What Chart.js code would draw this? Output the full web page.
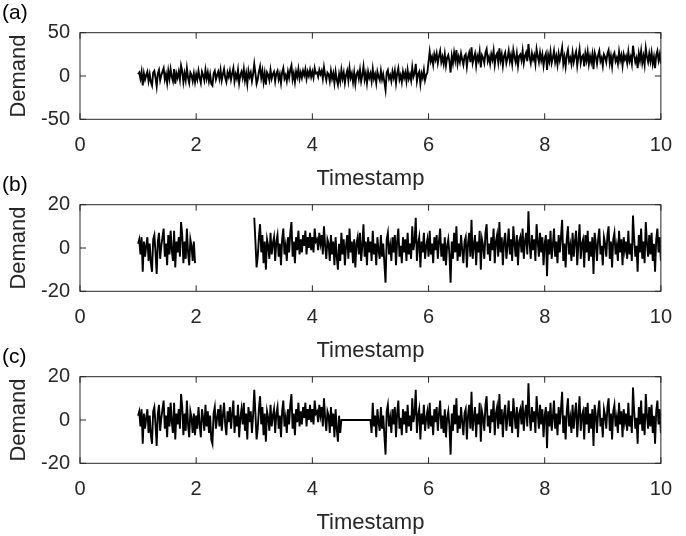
<!DOCTYPE html>
<html>
<head>
<meta charset="utf-8">
<script src="https://cdn.jsdelivr.net/npm/chart.js@4"></script>
<style>
  body { margin: 0; background: #fff; overflow: hidden; width: 686px; height: 536px; position: relative; }
  canvas { position: absolute; left: 0; }
</style>
</head>
<body>
<canvas id="panelA" width="686" height="200" style="top:0px"></canvas>
<canvas id="panelB" width="686" height="200" style="top:172px"></canvas>
<canvas id="panelC" width="686" height="200" style="top:344px"></canvas>
<script>
// timestamps run from 1 to 10 in steps of 0.02
const startTime = 1;
const timeStep = 0.02;

// (a) demand with a level shift at t = 6
const demandA = [
  2, 4, -3, 5, -11, 3, -4, 1, 5, -6,
  2, -7, -11, 4, 6, -2, -12, 3, 7, -5,
  1, 5, 9, -4, 2, -8, 6, -3, 8, -1,
  -6, 8, -9, 3, -2, 5, -4, 12, 6, -7,
  3, -5, 9, -2, -8, 4, 1, -6, 3, -7,
  2, -4, 6, -2, -8, 5, 1, -5, 7, -3,
  4, -6, 2, -9, -11, 3, 6, -4, 1, 5,
  -3, 7, -5, 2, 8, -2, -7, 4, -1, 6,
  -4, 3, 9, -6, 2, -3, 7, -8, 1, 5,
  -2, 8, -5, 3, -9, 6, -1, 4, -6, 2,
  14, 3, -9, -4, 5, 11, -2, 6, -7, 3,
  -10, 4, 1, -5, 7, -3, 2, 5, -6, 3,
  6, -4, 2, -8, 4, 9, -3, 1, -6, 5,
  -2, 7, 12, -4, 3, -7, 5, -1, 8, -3,
  4, -2, 6, 1, 8, -3, 5, 0, 7, -1,
  5, -2, 9, 3, 4, -1, 7, 2, 6, -3,
  10, 1, -5, 4, 2, -6, 6, -3, 3, -8,
  5, -4, -10, 2, -6, 7, -3, 4, -8, 1,
  6, -5, 9, -2, 3, -7, 4, -9, 2, 5,
  -3, 7, -6, 1, 11, -4, 3, -8, 5, -2,
  3, -6, 8, -3, 2, -8, 5, -1, -5, 6,
  -4, 2, -7, -16, 4, 7, -3, 1, -6, 5,
  -2, 6, -8, 3, 9, -4, 1, -7, 5, -2,
  4, -6, 7, -3, 2, -5, 10, -1, 3, 14,
  -6, 2, 5, -9, 3, -2, 7, -5, 1, 4,
  16, 28, 17, 22, 13, 25, 19, 26, 15, 23,
  29, 16, 22, 14, 25, 12, 21, 24, 17, 4,
  23, 15, 27, 18, 30, 14, 22, 16, 26, 19,
  13, 23, 25, 11, 22, 27, 16, 33, 15, 21,
  26, 12, 23, 18, 28, 10, 24, 21, 15, 27,
  31, 17, 22, 14, 25, 19, 29, 13, 23, 26,
  16, 32, 18, 25, 12, 23, 27, 15, 21, 29,
  17, 24, 14, 30, 22, 16, 26, 12, 23, 25,
  18, 29, 15, 23, 27, 17, 37, 22, 15, 26,
  19, 24, 14, 31, 23, 16, 27, 18, 25, 12,
  22, 26, 7, 24, 17, 28, 15, 21, 29, 16,
  23, 13, 26, 18, 25, 33, 14, 22, 11, 24,
  30, 17, 21, 14, 27, 16, 23, 28, 12, 22,
  31, 15, 22, 24, 11, 26, 18, 28, 14, 23,
  16, 25, 8, 27, 22, 14, 24, 29, 17, 21,
  12, 25, 22, 16, 26, 30, 15, 23, 11, 24,
  27, 17, 21, 14, 28, 18, 24, 12, 25, 19,
  23, 15, 28, 17, 22, 14, 35, 24, 16, 21,
  9, 26, 18, 29, 15, 23, 13, 32, 22, 16,
  26, 17, 27, 14, 22, 9, 24, 29, 18, 25,
  14
];

// (b) demand with a block of missing values between t = 2 and t = 3
const demandB = [
  2, 4, -3, 5, -11, 3, -4, 1, 5, -6,
  2, -7, -11, 4, 6, -2, -12, 3, 7, -5,
  1, 5, 9, -4, 2, -8, 6, -3, 8, -1,
  -6, 8, -9, 3, -2, 5, -4, 12, 6, -7,
  3, -5, 9, -2, -8, 4, 1, -6, 3, -7,
  null, null, null, null, null, null, null, null, null, null,
  null, null, null, null, null, null, null, null, null, null,
  null, null, null, null, null, null, null, null, null, null,
  null, null, null, null, null, null, null, null, null, null,
  null, null, null, null, null, null, null, null, null, null,
  14, 3, -9, -4, 5, 11, -2, 6, -7, 3,
  -10, 4, 1, -5, 7, -3, 2, 5, -6, 3,
  6, -4, 2, -8, 4, 9, -3, 1, -6, 5,
  -2, 7, 12, -4, 3, -7, 5, -1, 8, -3,
  4, -2, 6, 1, 8, -3, 5, 0, 7, -1,
  5, -2, 9, 3, 4, -1, 7, 2, 6, -3,
  10, 1, -5, 4, 2, -6, 6, -3, 3, -8,
  5, -4, -10, 2, -6, 7, -3, 4, -8, 1,
  6, -5, 9, -2, 3, -7, 4, -9, 2, 5,
  -3, 7, -6, 1, 11, -4, 3, -8, 5, -2,
  3, -6, 8, -3, 2, -8, 5, -1, -5, 6,
  -4, 2, -7, -16, 4, 7, -3, 1, -6, 5,
  -2, 6, -8, 3, 9, -4, 1, -7, 5, -2,
  4, -6, 7, -3, 2, -5, 10, -1, 3, 14,
  -6, 2, 5, -9, 3, -2, 7, -5, 1, 4,
  -4, 8, -3, 2, -7, 5, -1, 6, -5, 3,
  9, -4, 2, -6, 5, -8, 1, 4, -3, -16,
  3, -5, 7, -2, 10, -6, 2, -4, 6, -1,
  -7, 3, 5, -9, 2, 7, -4, 13, -5, 1,
  6, -8, 3, -2, 8, -10, 4, 1, -5, 7,
  11, -3, 2, -6, 5, -1, 9, -7, 3, 6,
  -4, 12, -2, 5, -8, 3, 7, -5, 1, 9,
  -3, 4, -6, 10, 2, -4, 6, -8, 3, 5,
  -2, 9, -5, 3, 7, -3, 17, 2, -5, 6,
  -1, 4, -6, 11, 3, -4, 7, -2, 5, -8,
  2, 6, -13, 4, -3, 8, -5, 1, 9, -4,
  3, -7, 6, -2, 5, 13, -6, 2, -9, 4,
  10, -3, 1, -6, 7, -4, 3, 8, -8, 2,
  11, -5, 2, 4, -9, 6, -2, 8, -6, 3,
  -4, 5, -12, 7, 2, -6, 4, 9, -3, 1,
  -8, 5, 2, -4, 6, 10, -5, 3, -9, 4,
  7, -3, 1, -6, 8, -2, 4, -8, 5, -1,
  3, -5, 8, -3, 2, -6, 15, 4, -4, 1,
  -11, 6, -2, 9, -5, 3, -7, 12, 2, -4,
  6, -3, 7, -6, 2, -11, 4, 9, -2, 5,
  -6
];

// (c) demand filled with zeros between t = 4.5 and t = 5
const demandC = [
  2, 4, -3, 5, -11, 3, -4, 1, 5, -6,
  2, -7, -11, 4, 6, -2, -12, 3, 7, -5,
  1, 5, 9, -4, 2, -8, 6, -3, 8, -1,
  -6, 8, -9, 3, -2, 5, -4, 12, 6, -7,
  3, -5, 9, -2, -8, 4, 1, -6, 3, -7,
  2, -4, 6, -2, -8, 5, 1, -5, 7, -3,
  4, -6, 2, -9, -11, 3, 6, -4, 1, 5,
  -3, 7, -5, 2, 8, -2, -7, 4, -1, 6,
  -4, 3, 9, -6, 2, -3, 7, -8, 1, 5,
  -2, 8, -5, 3, -9, 6, -1, 4, -6, 2,
  14, 3, -9, -4, 5, 11, -2, 6, -7, 3,
  -10, 4, 1, -5, 7, -3, 2, 5, -6, 3,
  6, -4, 2, -8, 4, 9, -3, 1, -6, 5,
  -2, 7, 12, -4, 3, -7, 5, -1, 8, -3,
  4, -2, 6, 1, 8, -3, 5, 0, 7, -1,
  5, -2, 9, 3, 4, -1, 7, 2, 6, -3,
  10, 1, -5, 4, 2, -6, 6, -3, 3, -8,
  5, -4, -10, 2, -6, 0, 0, 0, 0, 0,
  0, 0, 0, 0, 0, 0, 0, 0, 0, 0,
  0, 0, 0, 0, 0, 0, 0, 0, 0, 0,
  0, -6, 8, -3, 2, -8, 5, -1, -5, 6,
  -4, 2, -7, -16, 4, 7, -3, 1, -6, 5,
  -2, 6, -8, 3, 9, -4, 1, -7, 5, -2,
  4, -6, 7, -3, 2, -5, 10, -1, 3, 14,
  -6, 2, 5, -9, 3, -2, 7, -5, 1, 4,
  -4, 8, -3, 2, -7, 5, -1, 6, -5, 3,
  9, -4, 2, -6, 5, -8, 1, 4, -3, -16,
  3, -5, 7, -2, 10, -6, 2, -4, 6, -1,
  -7, 3, 5, -9, 2, 7, -4, 13, -5, 1,
  6, -8, 3, -2, 8, -10, 4, 1, -5, 7,
  11, -3, 2, -6, 5, -1, 9, -7, 3, 6,
  -4, 12, -2, 5, -8, 3, 7, -5, 1, 9,
  -3, 4, -6, 10, 2, -4, 6, -8, 3, 5,
  -2, 9, -5, 3, 7, -3, 17, 2, -5, 6,
  -1, 4, -6, 11, 3, -4, 7, -2, 5, -8,
  2, 6, -13, 4, -3, 8, -5, 1, 9, -4,
  3, -7, 6, -2, 5, 13, -6, 2, -9, 4,
  10, -3, 1, -6, 7, -4, 3, 8, -8, 2,
  11, -5, 2, 4, -9, 6, -2, 8, -6, 3,
  -4, 5, -12, 7, 2, -6, 4, 9, -3, 1,
  -8, 5, 2, -4, 6, 10, -5, 3, -9, 4,
  7, -3, 1, -6, 8, -2, 4, -8, 5, -1,
  3, -5, 8, -3, 2, -6, 15, 4, -4, 1,
  -11, 6, -2, 9, -5, 3, -7, 12, 2, -4,
  6, -3, 7, -6, 2, -11, 4, 9, -2, 5,
  -6
];

const panelLabels = ["(a)", "(b)", "(c)"];
const xTitle = "Timestamp";
const yTitle = "Demand";

const axisColor = "#262626";
const fontFamily = "'Liberation Sans', Arial, sans-serif";

// MATLAB-style box around the axes with inward tick marks
const boxFrame = {
  id: "boxFrame",
  afterDatasetsDraw(chart) {
    const { ctx, chartArea: a, scales } = chart;
    const tickLen = 6;
    ctx.save();
    ctx.strokeStyle = axisColor;
    ctx.lineWidth = 1;
    ctx.strokeRect(a.left, a.top, a.right - a.left, a.bottom - a.top);
    ctx.beginPath();
    scales.x.ticks.forEach((t) => {
      const px = scales.x.getPixelForValue(t.value);
      ctx.moveTo(px, a.bottom);
      ctx.lineTo(px, a.bottom - tickLen);
      ctx.moveTo(px, a.top);
      ctx.lineTo(px, a.top + tickLen);
    });
    scales.y.ticks.forEach((t) => {
      const py = scales.y.getPixelForValue(t.value);
      ctx.moveTo(a.left, py);
      ctx.lineTo(a.left + tickLen, py);
      ctx.moveTo(a.right, py);
      ctx.lineTo(a.right - tickLen, py);
    });
    ctx.stroke();
    ctx.restore();
  },
};

function makePanel(id, label, values, yMax, yStep) {
  const points = values.map((v, i) => ({ x: startTime + i * timeStep, y: v }));
  new Chart(document.getElementById(id), {
    type: "line",
    data: {
      datasets: [
        {
          data: points,
          borderColor: "#000",
          borderWidth: 1.9,
          pointRadius: 0,
          tension: 0,
          spanGaps: false,
        },
      ],
    },
    options: {
      responsive: false,
      animation: false,
      events: [],
      layout: { padding: { left: 2, right: 12, top: 0, bottom: 0 } },
      plugins: {
        legend: { display: false },
        tooltip: { enabled: false },
        title: {
          display: true,
          text: label,
          align: "start",
          color: "#000",
          font: { family: fontFamily, size: 21, weight: "normal" },
          padding: { top: 1, bottom: 6.5 },
        },
      },
      scales: {
        x: {
          type: "linear",
          min: 0,
          max: 10,
          grid: { display: false, drawTicks: false },
          border: { display: false },
          ticks: {
            stepSize: 2,
            padding: 14,
            color: axisColor,
            font: { family: fontFamily, size: 20 },
            maxRotation: 0,
          },
          title: {
            display: true,
            text: xTitle,
            color: axisColor,
            font: { family: fontFamily, size: 22 },
            padding: { top: 0, bottom: 7.8 },
          },
          afterFit(scale) {
            scale.height = 80.7;
          },
        },
        y: {
          min: -yMax,
          max: yMax,
          grid: { display: false, drawTicks: false },
          border: { display: false },
          ticks: {
            stepSize: yStep,
            padding: 10,
            color: axisColor,
            font: { family: fontFamily, size: 20 },
          },
          title: {
            display: true,
            text: yTitle,
            color: axisColor,
            font: { family: fontFamily, size: 22 },
            padding: { top: 3.8, bottom: 0 },
          },
          afterFit(scale) {
            scale.width = 78;
          },
        },
      },
    },
    plugins: [boxFrame],
  });
}

makePanel("panelA", panelLabels[0], demandA, 50, 50);
makePanel("panelB", panelLabels[1], demandB, 20, 20);
makePanel("panelC", panelLabels[2], demandC, 20, 20);
</script>
</body>
</html>
